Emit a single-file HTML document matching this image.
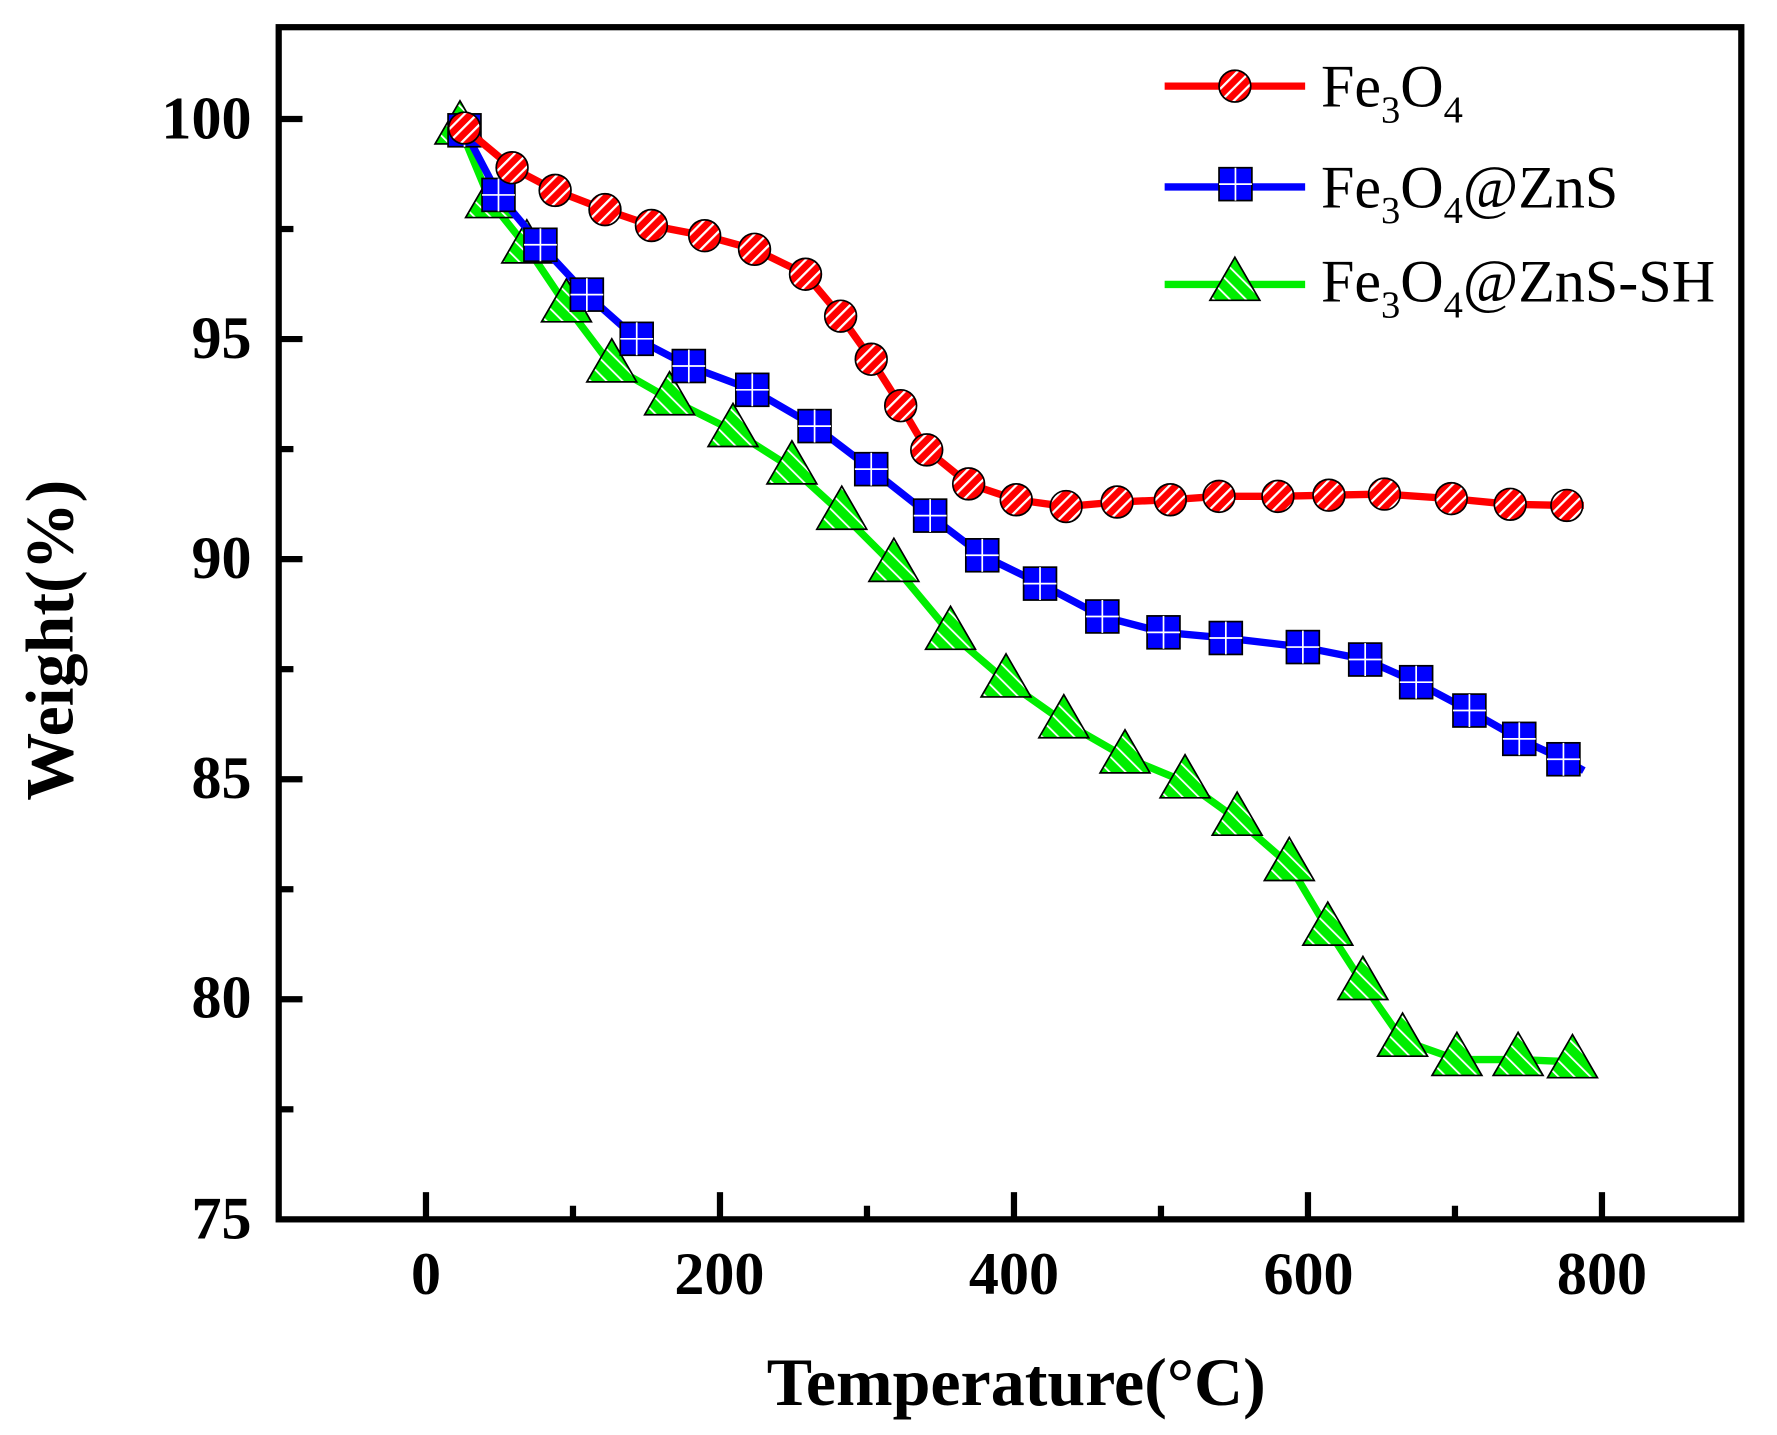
<!DOCTYPE html>
<html><head><meta charset="utf-8"><style>
html,body{margin:0;padding:0;background:#fff;}
svg{display:block;}
text{font-family:"Liberation Serif",serif;}
</style></head><body>
<svg id="s" width="1777" height="1435" viewBox="0 0 1568.5 1266.3" preserveAspectRatio="none" xmlns="http://www.w3.org/2000/svg">
<defs>
<pattern id="hatch" width="8" height="8" patternUnits="userSpaceOnUse" patternTransform="rotate(45)">
<rect width="8" height="8" fill="#f00"/><rect x="0" y="0" width="2" height="8" fill="#fff"/>
</pattern>
<pattern id="hg" width="10" height="10" patternUnits="userSpaceOnUse" patternTransform="rotate(-45)">
<rect width="10" height="10" fill="#0e0"/><rect x="0" y="0" width="1.6" height="10" fill="#fff"/>
</pattern>
</defs>
<rect x="0" y="0" width="1568.5" height="1266.3" fill="#fff"/>
<g id="axes" stroke="#000" stroke-width="5.5" fill="none">
<rect x="246" y="24" width="1291" height="1052"/>
</g>
<g id="ticks" stroke="#000" stroke-width="5.5"></g>
<g font-size="53" font-weight="bold" text-anchor="end" id="ylab">
<text x="222" y="122">100</text><text x="222" y="316">95</text><text x="222" y="510">90</text>
<text x="222" y="704">85</text><text x="222" y="898">80</text><text x="222" y="1093">75</text>
</g>
<g font-size="53" font-weight="bold" text-anchor="middle">
<text x="376" y="1142">0</text><text x="635" y="1142">200</text><text x="895" y="1142">400</text>
<text x="1155" y="1142">600</text><text x="1414" y="1142">800</text>
<text x="897" y="1240" font-size="60">Temperature(°C)</text>
<text transform="translate(64,565) rotate(-90)" font-size="60">Weight(%)</text>
</g>
<g id="data"></g>
<g font-size="53">
<line x1="1028" y1="76" x2="1152" y2="76" stroke="#f00" stroke-width="6.5"/>
<circle cx="1090" cy="76" r="14" fill="url(#hatch)" stroke="#000" stroke-width="1.5"/>
<text x="1166" y="94">Fe<tspan font-size="34" dy="14">3</tspan><tspan dy="-14">O</tspan><tspan font-size="34" dy="14">4</tspan></text>
<line x1="1028" y1="165" x2="1152" y2="165" stroke="#00f" stroke-width="6.5"/>
<rect x="1076" y="148" width="29" height="29" fill="#00f" stroke="#000" stroke-width="1.5"/>
<path d="M1090.5 148V177M1076 162.5H1105" stroke="#fff" stroke-width="1.5"/>
<text x="1166" y="183">Fe<tspan font-size="34" dy="14">3</tspan><tspan dy="-14">O</tspan><tspan font-size="34" dy="14">4</tspan><tspan dy="-14">@ZnS</tspan></text>
<line x1="1028" y1="251" x2="1152" y2="251" stroke="#0e0" stroke-width="6.5"/>
<path d="M1090 227L1112 265L1068 265Z" fill="url(#hg)" stroke="#000" stroke-width="1.5"/>
<text x="1166" y="266">Fe<tspan font-size="34" dy="14">3</tspan><tspan dy="-14">O</tspan><tspan font-size="34" dy="14">4</tspan><tspan dy="-14">@ZnS-SH</tspan></text>
</g>
<script>
var NS="http://www.w3.org/2000/svg";
function el(p,t,a){var e=document.createElementNS(NS,t);for(var k in a)e.setAttribute(k,a[k]);p.appendChild(e);return e;}
var tk=document.getElementById('ticks');
for(var i=0;i<10;i++){var y=105+i*97.1;var L=(i%2==0)?21:13;el(tk,'line',{x1:246,y1:y,x2:246+L,y2:y});}
for(var i=0;i<=8;i++){var x=376+i*129.75;var L=(i%2==0)?24:12;el(tk,'line',{x1:x,y1:1076,x2:x,y2:1076-L});}
var red=[[410,113],[452,148],[490,168],[534,185],[575,199],[622,208],[666,220],[711,242],[742,279],[769,317],[795,358],[818,397],[855,427],[897,441],[941,447],[986,443],[1033,441],[1076,438],[1128,438],[1173,437],[1222,436],[1281,440],[1333,445],[1383,446]];
var blue=[[410,115],[440,172],[477,216],[518,260],[562,299],[608,323],[664,344],[719,376],[769,414],[821,455],[867,490],[918,515],[973,544],[1027,558],[1082,563],[1150,571],[1205,582],[1250,602],[1297,627],[1341,652],[1380,670]];
var green=[[406,113],[433,178],[465,218],[500,270],[540,323],[591,352],[647,380],[699,413],[743,453],[789,499],[839,559],[888,601],[939,637],[993,668],[1046,690],[1092,723],[1138,763],[1172,820],[1203,868],[1238,918],[1286,935],[1340,935],[1388,937]];
var d=document.getElementById('data');
function pl(a,c,extra){var pts=a.map(function(p){return p.join(',')});if(extra)pts.push(extra);el(d,'polyline',{points:pts.join(' '),fill:'none',stroke:c,'stroke-width':6.5,'stroke-linejoin':'round'});}
pl(green,'#0e0','1400,937');
green.forEach(function(p){el(d,'path',{d:'M'+p[0]+' '+(p[1]-24)+'L'+(p[0]+22)+' '+(p[1]+14)+'L'+(p[0]-22)+' '+(p[1]+14)+'Z',fill:'url(#hg)',stroke:'#000','stroke-width':1.5});});
pl(blue,'#00f','1398,680');
blue.forEach(function(p){el(d,'rect',{x:p[0]-14.5,y:p[1]-14.5,width:29,height:29,fill:'#00f',stroke:'#000','stroke-width':1.5});el(d,'path',{d:'M'+p[0]+' '+(p[1]-14.5)+'V'+(p[1]+14.5)+'M'+(p[0]-14.5)+' '+p[1]+'H'+(p[0]+14.5),stroke:'#fff','stroke-width':1.5});});
pl(red,'#f00','1398,446');
red.forEach(function(p){el(d,'circle',{cx:p[0],cy:p[1],r:14,fill:'url(#hatch)',stroke:'#000','stroke-width':1.5});});
</script>
</svg>
</body></html>
